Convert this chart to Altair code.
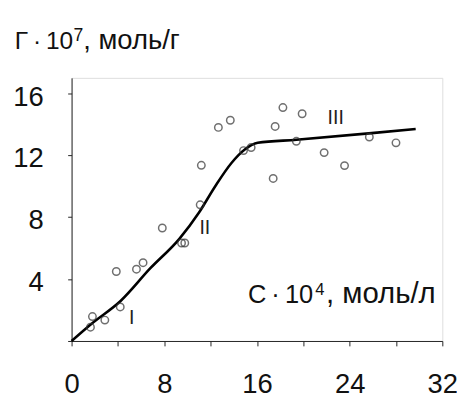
import altair as alt
import pandas as pd

# Experimental points (C·10^4, Γ·10^7)
pt_c = [1.63, 1.8, 2.87, 4.2, 3.86, 5.6, 6.17, 7.83, 9.49, 9.77, 11.1, 11.2,
        12.67, 13.7, 14.84, 15.5, 17.57, 18.24, 19.9, 17.4, 19.4, 21.8, 23.56,
        25.7, 28.0]
pt_g = [0.89, 1.58, 1.35, 2.2, 4.49, 4.64, 5.06, 7.3, 6.33, 6.33, 8.8, 11.35,
        13.8, 14.26, 12.3, 12.5, 13.86, 15.08, 14.68, 10.5, 12.9, 12.17, 11.33,
        13.18, 12.8]

# Fitted isotherm curve
line_c = [0, 1.7, 4.25, 6.8, 9.3, 11.0, 12.4, 13.8, 14.95, 16.07, 19.4, 25.9, 29.7]
line_g = [0, 1.1, 2.6, 4.7, 6.6, 8.3, 10.0, 11.5, 12.37, 12.8, 13.0, 13.43, 13.7]

# Region labels
reg_text = ["I", "II", "III"]
reg_c = [5.2, 11.5, 22.8]
reg_g = [1.5, 7.3, 14.4]

x_ticks = [0, 4, 8, 12, 16, 20, 24, 28, 32]
y_ticks = [0, 2, 4, 6, 8, 10, 12, 14, 16]

pts = pd.DataFrame({"c": pt_c, "g": pt_g})
crv = pd.DataFrame({"c": line_c, "g": line_g})
reg = pd.DataFrame({"c": reg_c, "g": reg_g, "t": reg_text})

FONT = "Liberation Sans"

xs = alt.Scale(domain=[0, 32], nice=False, zero=False)
ys = alt.Scale(domain=[0, 17], nice=False, zero=False)

xaxis = alt.Axis(values=x_ticks, labelExpr="datum.value % 8 == 0 ? datum.label : ''",
                 title=None, grid=False, tickSize=5, labelPadding=26,
                 labelFontSize=28, labelFont=FONT, labelColor="#111",
                 domainColor="#222", tickColor="#222", labelFlush=False)
yaxis = alt.Axis(values=y_ticks,
                 labelExpr="(datum.value % 4 == 0 && datum.value > 0) ? datum.label : ''",
                 title=None, grid=False, tickSize=4, labelPadding=25, labelOffset=4,
                 labelFontSize=28, labelFont=FONT, labelColor="#111",
                 domainColor="#222", tickColor="#222", labelFlush=False)

points = alt.Chart(pts).mark_point(shape="circle", size=58, strokeWidth=1.5,
                                    color="#333", filled=False).encode(
    x=alt.X("c:Q", scale=xs, axis=xaxis),
    y=alt.Y("g:Q", scale=ys, axis=yaxis),
)

curve = alt.Chart(crv).mark_line(color="black", strokeWidth=2.6,
                                 interpolate="monotone").encode(
    x=alt.X("c:Q", scale=xs),
    y=alt.Y("g:Q", scale=ys),
)

labels = alt.Chart(reg).mark_text(font=FONT, fontSize=20, color="#222",
                                  align="center", baseline="middle").encode(
    x=alt.X("c:Q", scale=xs),
    y=alt.Y("g:Q", scale=ys),
    text="t:N",
)


def txt(s, x, y, size, align):
    return alt.Chart(pd.DataFrame({"t": [s]})).mark_text(
        font=FONT, fontSize=size, color="#111", align=align, baseline="alphabetic"
    ).encode(x=alt.value(x), y=alt.value(y), text="t:N")


# y-axis title: Г·10^7, моль/г
y1 = txt("Г\u2009·\u200910", -58, -30, 25, "left")
y2 = txt("7", 2, -38, 18, "left")
y3 = txt(", моль/г", 12, -30, 28, "left")

# x-axis title: C·10^4, моль/л
x1 = txt("C\u2009·\u200910", 247, 230, 26, "right")
x2 = txt("4", 249, 222, 17, "left")
x3 = txt(", моль/л", 260, 230, 30, "left")

chart = alt.layer(curve, points, labels, y1, y2, y3, x1, x2, x3).properties(
    width=379, height=269,
    autosize=alt.AutoSizeParams(type="none"),
    padding={"left": 65, "top": 67, "right": 15, "bottom": 60},
).configure_view(stroke=None).configure(background="white")

chart.save("out.html", embed_options={"renderer": "svg", "actions": False})
